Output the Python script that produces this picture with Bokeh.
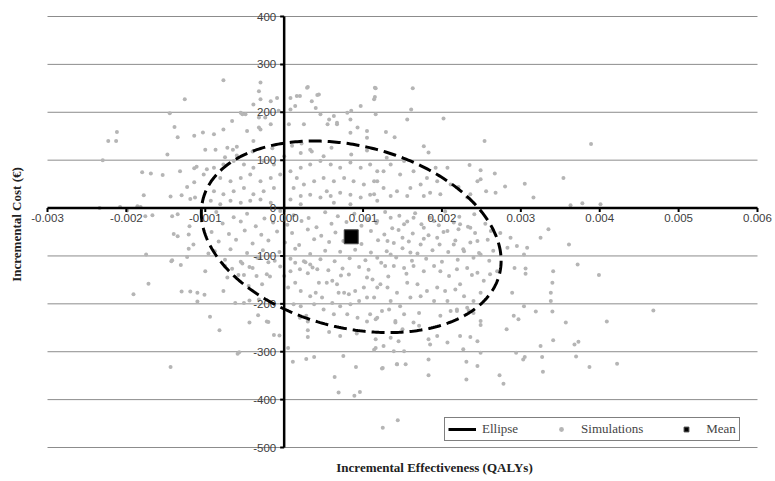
import numpy as np
from bokeh.plotting import figure
from bokeh.models import ColumnDataSource, Range1d, Legend, LegendItem
from bokeh.core.properties import value
from bokeh.embed import file_html
from bokeh.resources import INLINE

# ---------------- data (x in units of 0.001 QALY, y in EUR) ----------------
sim_x_milli = [
    -1.26, -1.45, -1.39, -1.35, -1.14, -1.03, -1.00, -2.12, -2.23, -2.13, -2.30, -1.48, -1.80, -1.69,
    -1.54, -1.32, -1.14, -1.11, -1.23, -1.14, -1.78, -1.44, -1.30, -1.19, -1.13, -2.34, -2.08, -1.99,
    -1.86, -1.82, -1.67, -1.76, -1.42, -1.35, -1.40, -1.35, -1.21, -1.20, -1.21, -1.15, -1.75, -1.42,
    -1.23, -1.43, -1.31, -1.00, -0.96, -1.72, -1.91, -1.30, -1.19, -1.10, -1.01, -1.10, -0.94, -1.44,
    -0.82, -0.44, -0.22, -0.13, -0.06, -0.59, 0.05, 0.11, 0.28, 0.38, 0.64, 0.69, 0.89, 0.96, 1.25,
    0.75, 0.91, 1.14, 1.25, 1.43, 1.44,
    -0.75, -0.72, -0.77, -0.57, -0.33, -0.20, -0.51, -0.35, -0.18, -0.28, -0.45, -0.53, -0.44, -0.31,
    -0.20, -0.62, -0.51, -0.44, -0.32,
    0.30, 0.30, 0.30, 0.20, 0.28, 0.57, 0.71, 0.92, 1.05, 1.09,
    0.14, 0.25, 0.33, 0.42, 0.44, 0.54, 0.61, 0.67, 0.69, 0.76, 0.82, 0.90, 1.01, 1.05, 1.12, 1.18,
    1.14, 1.05, 0.95, 0.84, 0.71, 0.61, 0.48, 0.40, 0.33, 0.21, 0.14, 0.08, 0.05, 0.12, 0.21, 0.38,
    0.50, 0.63, 0.80, 0.93, 1.18,
    2.92, 3.06, 3.06, 3.41, 3.40, 3.38, 3.38, 3.40, 2.89, 3.04, 3.19, 2.91, 2.97, 2.82, 3.57, 3.73,
    3.41, 3.25, 3.27, 3.05, 3.03, 2.94, 3.28, 2.78, 2.73, 2.31, 2.31, 2.45, 1.83, 1.83, 1.54, 1.43,
    1.24, 2.07, 2.23, 2.36, 2.45, 2.27, 2.49, 1.98, 2.11, 2.19, 2.34, 2.49, 2.49, 1.71, 1.64, 1.71,
    1.83, 1.94, 1.85, 1.41, 1.50, 1.35, 1.45, 1.52, 1.39, 1.16, 1.16, 1.26, 1.16, 1.24, 1.33, 1.41,
    1.18, 1.28, 1.39, 1.52, 1.64, 1.77, 1.90, 1.98, 2.09, 2.19, 2.32, 2.45, 2.53, 2.61, 2.70,
    1.22, 1.31, 1.43, 1.56, 1.69, 1.81, 1.94, 2.04, 2.17, 2.28, 2.40, 2.49, 2.23, 1.73,
    1.35, 1.47, 1.60, 1.90, 2.07, 2.19, 2.32, 2.40, 1.52,
    1.15, 1.15, 1.63, 1.61, 1.56, 2.02, 1.29, 1.40, 1.77, 1.83, 2.54, 3.54, 3.16, 3.05,
    2.07, 2.21, 2.35, 2.49, 2.49, 2.45, 2.67, 2.80, 2.68, 2.56, 2.32, 2.36,
    1.52, 1.35, 1.26, 1.47, 1.64, 1.81, 1.92, 1.73, 1.60, 1.43, 1.26, 1.18, 1.14, 1.35, 1.56, 1.85,
    1.98, 2.11, 1.94, 1.77,
    1.18, 1.35, 1.52, 1.64, 1.77, 1.90, 2.07, 2.23, 2.36, 2.45, 2.74, 2.87, 2.95, 3.08, 3.25, 3.35,
    1.50, 1.31, 1.73, 1.94, 2.15, 2.28, 2.49, 2.83, 3.04, 1.60, 1.35,
    3.89, 3.63, 3.78, 4.01, 4.68, 4.22, 3.87, 4.09, 3.99, 3.72, 3.68, 3.70, 3.61,
    -0.77, -1.02, -0.98, -0.87, -0.72, -0.65, -0.60, -0.32, -0.30, -0.17, -0.09, -0.07, -0.17, -0.32,
    -0.24, -0.47, -0.39, -0.55, -0.49, 0.08, 0.20, 0.30, 0.44, 0.35, 0.08, 0.63, 0.57, 0.46, 0.85,
    0.97, 1.16, 1.14, 0.67, 0.84, 1.05, 0.84,
    -0.30, -0.39, -0.53, -0.66, -0.77, -0.89, -0.32, -0.30, 0.16, 0.42, 0.29, 0.14, 0.40, 0.55, 0.67,
    0.80, 0.93, 1.05, 1.16, 0.25, 0.06, 0.21, 0.33,
    -0.89, -0.77, -0.64, -0.51, -0.39, -0.26, -0.13, -0.81, -0.68, -0.55, -0.43, -0.30, -0.17, -0.05,
    0.08, 0.21, 0.33, 0.46, 0.59, 0.71, 0.84, 0.97, 1.09, 1.18, -0.89, -0.77, -0.64, -0.51, -0.39,
    -0.26, -0.13, 0.12, 0.25, 0.38, 0.50, 0.63, 0.76, 0.88, 1.01, 1.14, -0.93, -0.81, -0.68, -0.55,
    -0.43, -0.30, -0.17, 0.08, 0.21, 0.33, 0.46, 0.59, 0.71, 0.84, 0.97, 1.09, 1.18, 0.16, 0.54, 0.84,
    0.21, 0.63,
    -0.60, -0.40, -0.15, 0.10, 0.35, 0.60, 0.85, 1.05, 1.30, -0.75, 0.00, 0.50, 0.22,
    -0.86, -0.64, -0.47, -0.25, -0.05, 0.12, 0.31, 0.52, 0.68, 0.89, 1.07, 1.28, 1.46, 1.66, 1.85,
    2.04, 2.22, 2.41,
    -0.78, -0.55, -0.36, -0.14, 0.04, 0.22, 0.41, 0.60, 0.79, 0.98, 1.17, 1.37, 1.56, 1.74, 1.96,
    2.15, 2.33, 2.55,
    -0.92, -0.70, -0.50, -0.29, -0.09, 0.10, 0.30, 0.47, 0.65, 1.10, 1.27, 1.45, 1.63, 1.83, 2.02,
    2.21, 2.42, 2.62,
    -0.83, -0.61, -0.40, -0.20, 0.01, 0.19, 0.38, 0.57, 0.75, 0.98, 1.19, 1.39, 1.58, 1.77, 1.97,
    2.17, 2.36, 2.58,
    -0.88, -0.68, -0.47, -0.27, -0.06, 0.14, 0.33, 0.52, 0.71, 0.90, 1.10, 1.30, 1.50, 1.69, 1.88,
    2.08, 2.27, 2.47, 2.65,
    -0.75, -0.55, -0.34, -0.12, 0.08, 0.27, 0.46, 0.64, 0.83, 1.03, 1.23, 1.42, 1.62, 1.80, 2.00,
    2.20, 2.40, 2.60,
    -0.66, -0.40, -0.05, 0.20, 0.36, 0.56, 0.74, 0.95, 1.07,
    -0.58, -0.22, 0.00, 0.30, 0.72, 0.82, 1.32, 1.55, 2.38,
]
sim_y = [
    227, 198, 169, 148, 151, 158, 122, 159, 140, 140, 100, 112, 75, 72,
    69, 77, 83, 86, 44, 54, 27, 24, 27, 19, 22, 0, 2, -5,
    4, 2, -15, -17, -17, -13, -54, -59, -55, -38, -85, -76, -97, -109,
    -102, -111, -119, -132, -95, -158, -180, -174, -174, -177, -181, -195, -227, -332,
    -255, -239, -237, -265, -266, -304, -292, -321, -315, -311, -353, -385, -392, -384, -459,
    -309, -332, -296, -334, -326, -443,
    -121, -145, -173, -301, -224, -238, -140, -142, -143, -159, -163, -116, -123, -104,
    -113, -198, -198, -193, -191,
    -237, -255, -269, -229, -225, -259, -267, -262, -237, -222,
    -114, -111, -118, -128, -156, -156, -152, -159, -177, -177, -180, -173, -166, -145, -149, -166,
    -187, -187, -194, -201, -205, -198, -187, -177, -184, -173, -156, -132, -166, -201, -205, -201,
    -212, -222, -222, -229, -229,
    -125, -126, -137, -132, -156, -177, -194, -216, -177, -205, -216, -225, -232, -253, -239, -279,
    -276, -288, -311, -311, -316, -302, -342, -367, -349, -358, -321, -330, -349, -316, -326, -326,
    -335, -281, -267, -269, -278, -295, -302, -225, -215, -215, -214, -236, -244, -219, -239, -246,
    -274, -267, -285, -239, -253, -271, -278, -299, -299, -292, -274, -288, -232, -215, -212, -236,
    -104, -121, -121, -125, -121, -132, -121, -132, -142, -128, -125, -135, -152, -138, -132,
    -159, -166, -177, -156, -159, -173, -166, -173, -170, -184, -194, -177, -159, -184,
    -194, -205, -187, -194, -194, -212, -208, -219, -222,
    251, 232, 250, 206, 185, 187, 159, 148, 129, 116, 140, 63, 22, 51,
    84, 44, 90, 79, 60, 56, 72, 45, 32, 35, 22, 29,
    98, 91, 77, 70, 77, 63, 84, 49, 42, 35, 42, 56, 29, 25, 25, 32,
    29, 49, 56, 25,
    -27, -20, -34, -20, -41, -27, -48, -34, -41, -69, -52, -62, -79, -83, -62, -44,
    -62, -69, -76, -62, -76, -90, -97, -83, -97, -93, -97,
    134, 6, 10, 8, -214, -325, -332, -237, -140, -118, -285, -310, -76,
    267, 70, 81, 122, 126, 122, 128, 244, 262, 223, 230, 203, 175, 168,
    189, 161, 140, 199, 196, 206, 234, 253, 237, 223, 230, 192, 185, 196, 203,
    213, 250, 227, 175, 185, 147, 157,
    227, 216, 196, 182, 164, 154, 189, 164, 234, 236, 251, 213, 209, 175, 178,
    199, 168, 161, 196, 175, 175, 115, 122,
    84, 91, 98, 91, 84, 98, 91, 63, 56, 63, 70, 56, 63, 70,
    77, 84, 91, 98, 91, 84, 95, 84, 91, 77, 35, 29, 35, 42, 29,
    35, 42, 42, 49, 56, 63, 56, 63, 56, 49, 56, 15, 8, 15, 11,
    15, 18, 11, 18, 25, 28, 22, 25, 32, 28, 22, 28, 15, 63, 35, 8,
    8, 11,
    110, 118, 125, 130, 118, 126, 112, 120, 105, 106, 108, 108, 135,
    -8, -19, -12, -22, -6, -15, -21, -9, -17, -12, -23, -8, -16, -11, -20,
    -7, -18, -13,
    -32, -28, -38, -30, -35, -27, -40, -33, -29, -37, -31, -42, -28, -34, -36,
    -30, -39, -33,
    -50, -54, -47, -56, -49, -52, -45, -58, -51, -48, -55, -46, -53, -57, -50,
    -44, -52, -48,
    -70, -66, -74, -68, -72, -77, -65, -71, -69, -75, -67, -73, -70, -64, -76,
    -68, -72, -66,
    -90, -86, -94, -88, -92, -85, -96, -89, -91, -87, -93, -90, -84, -95, -88,
    -92, -86, -94, -89,
    -108, -112, -104, -110, -106, -113, -107, -111, -105, -109, -114, -103, -110, -106, -112,
    -108, -104, -110,
    -127, -125, -122, -128, -124, -130, -126, -123, -129,
    -140, -138, -142, -136, -141, -139, -143, -137, -140,
]

mean_x_milli = [0.85]
mean_y = [-60]

# confidence ellipse parameters
ell_cx_milli, ell_cy = 0.85, -60.0
ell_ax_milli, ell_ay = 1.90, 200.0
ell_phase = 1.823

x_ticks_milli = [-3, -2, -1, 0, 1, 2, 3, 4, 5, 6]
x_tick_labels = ["-0.003", "-0.002", "-0.001", "0.000", "0.001", "0.002", "0.003", "0.004", "0.005", "0.006"]
y_ticks = [400, 300, 200, 100, 0, -100, -200, -300, -400, -500]
y_tick_labels = ["400", "300", "200", "100", "0", "-100", "-200", "-300", "-400", "-500"]

x_title = "Incremental Effectiveness (QALYs)"
y_title = "Incremental Cost (€)"

# ---------------- derived ----------------
X_MIN, X_MAX = -0.003, 0.006
Y_MIN, Y_MAX = -500.0, 400.0
W, H = 775, 481
FL, FR, FT, FB = 47, 757, 16, 447          # pixel box of the data area
sx = (X_MAX - X_MIN) / (FR - FL)           # data units per pixel
sy = (Y_MAX - Y_MIN) / (FB - FT)

sim_x = [v * 1e-3 for v in sim_x_milli]
mean_x = [v * 1e-3 for v in mean_x_milli]
x_ticks = [v * 1e-3 for v in x_ticks_milli]

t = np.linspace(0, 2 * np.pi, 400)
ell_x = (ell_cx_milli + ell_ax_milli * np.cos(t)) * 1e-3
ell_y = ell_cy + ell_ay * np.cos(t + ell_phase)

p = figure(width=W, height=H, output_backend="svg", toolbar_location=None,
           x_range=Range1d(X_MIN - FL * sx, X_MAX + (W - FR) * sx),
           y_range=Range1d(Y_MIN - (H - FB) * sy, Y_MAX + FT * sy),
           x_axis_type=None, y_axis_type=None,
           min_border=0, min_border_left=0, min_border_right=0,
           min_border_top=0, min_border_bottom=0)
p.outline_line_color = None
p.background_fill_color = "white"
p.xgrid.visible = False
p.ygrid.visible = False

# horizontal gridlines
p.segment(x0=[X_MIN] * len(y_ticks), x1=[X_MAX] * len(y_ticks), y0=y_ticks, y1=y_ticks,
          line_color="#8c8c8c", line_width=1)

sim_src = ColumnDataSource(dict(x=sim_x, y=sim_y))
r_sim = p.scatter("x", "y", source=sim_src, size=4, color="#b5b5b5", line_color=None)

# axes through the origin
p.segment(x0=[X_MIN, 0], x1=[X_MAX, 0], y0=[0, Y_MIN], y1=[0, Y_MAX],
          line_color="black", line_width=2.5)
p.segment(x0=x_ticks, x1=x_ticks, y0=[0] * len(x_ticks), y1=[-4 * sy] * len(x_ticks),
          line_color="black", line_width=2)
p.segment(x0=[0] * len(y_ticks), x1=[-4 * sx] * len(y_ticks), y0=y_ticks, y1=y_ticks,
          line_color="black", line_width=2)

tick_font = value("Liberation Sans")
p.text(x=x_ticks, y=[0] * len(x_ticks), text=x_tick_labels, text_align="center",
       text_baseline="top", y_offset=6, text_font=tick_font, text_font_size="11.5px",
       text_color="#404040")
p.text(x=[0] * len(y_ticks), y=y_ticks, text=y_tick_labels, text_align="right",
       text_baseline="middle", x_offset=-8, text_font=tick_font, text_font_size="11.5px",
       text_color="#404040")

r_ell = p.line(ell_x, ell_y, line_color="black", line_width=3, line_dash="13 6")
r_ell_leg = p.line([np.nan], [np.nan], line_color="black", line_width=3)

r_mean = p.scatter(mean_x, mean_y, marker="square", size=14, color="black",
                   line_color="#444444")

# axis titles
p.text(x=[X_MIN + (434 - FL) * sx], y=[Y_MAX - (467 - FT) * sy], text=[x_title],
       text_align="center", text_baseline="middle", text_font=value("Liberation Serif"),
       text_font_style="bold", text_font_size="13px", text_color="#222222")
p.text(x=[X_MIN + (16 - FL) * sx], y=[Y_MAX - (224 - FT) * sy], text=[y_title],
       angle=np.pi / 2, text_align="center", text_baseline="middle",
       text_font=value("Liberation Serif"), text_font_style="bold",
       text_font_size="13px", text_color="#222222")

legend = Legend(items=[
    LegendItem(label="Ellipse", renderers=[r_ell_leg]),
    LegendItem(label="Simulations", renderers=[r_sim]),
    LegendItem(label="Mean", renderers=[r_mean]),
], orientation="horizontal", location=(444, H - 441))
legend.border_line_color = "black"
legend.border_line_width = 1
legend.background_fill_color = "white"
legend.background_fill_alpha = 1
legend.label_text_font = "Liberation Serif"
legend.label_text_font_size = "13px"
legend.glyph_width = 28
legend.glyph_height = 12
legend.label_standoff = 6
legend.spacing = 29
legend.padding = 3
legend.margin = 0
legend.label_height = 12
p.add_layout(legend, "center")

open("out.html", "w").write(file_html(p, INLINE))
